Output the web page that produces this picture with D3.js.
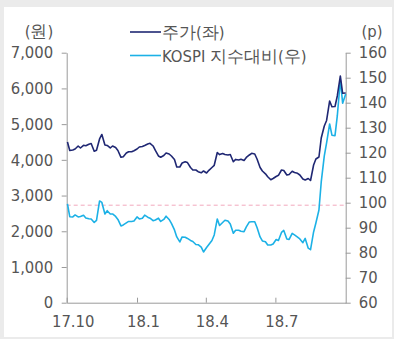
<!DOCTYPE html>
<html>
<head>
<meta charset="utf-8">
<script src="https://d3js.org/d3.v7.min.js"></script>
<style>
body { margin: 0; background: #ebebeb; }
text { font-family: "Liberation Sans Narrow", "DejaVu Sans Condensed", "Liberation Sans", sans-serif; fill: #555; }
.axis path, .axis line { stroke: #9a9a9a; }
</style>
</head>
<body>
<script>
// twice a week (Mon, Thu), Oct 2017 - Oct 2018
var startDay = "2017-10-02";
var weeks = 52;

// 주가 (원), left axis
var price = [
  4500, 4262, 4276, 4304, 4388, 4332, 4407, 4396, 4438, 4458,
  4242, 4270, 4584, 4710, 4416, 4402, 4332, 4388, 4346, 4262,
  4071, 4088, 4192, 4228, 4228, 4256, 4304, 4360, 4374, 4402,
  4444, 4463, 4388, 4262, 4108, 4074, 4122, 4192, 4164, 4108,
  4010, 3800, 3800, 3912, 3945, 3923, 3786, 3716, 3716, 3668,
  3637, 3688, 3632, 3707, 3786, 3847, 4206, 4147, 4178, 4150,
  4136, 4150, 3948, 4012, 3996, 4015, 3982, 4066, 4136, 4183,
  4164, 4024, 3786, 3688, 3609, 3528, 3444, 3478, 3534, 3567,
  3716, 3702, 3576, 3590, 3682, 3646, 3623, 3576, 3464, 3436,
  3478, 3422, 3856, 4024, 4080, 4612, 4948, 5102, 5648, 5488,
  5494, 5788, 6348, 5863, 5872
];

// KOSPI 지수대비 (p), right axis
var relative = [
  99.5, 94.4, 94.3, 95.1, 94.3, 94.5, 95.0, 93.9, 93.6, 93.5,
  92.1, 92.9, 100.7, 100.1, 95.5, 96.8, 95.5, 95.5, 94.5, 93.3,
  90.7, 91.1, 91.9, 92.5, 92.5, 92.7, 94.3, 93.5, 93.8, 95.0,
  94.2, 93.8, 92.8, 93.1, 93.8, 92.5, 93.3, 94.6, 93.3, 91.7,
  89.1, 86.3, 84.3, 86.3, 86.2, 85.7, 84.9, 84.5, 83.3, 83.2,
  82.2, 80.3, 82.1, 83.3, 84.9, 87.1, 93.5, 90.9, 92.1, 93.0,
  92.7, 91.5, 87.8, 89.0, 89.0, 88.6, 88.4, 90.3, 92.3, 92.4,
  92.4, 90.1, 86.3, 84.7, 84.4, 83.1, 83.1, 83.5, 85.3, 84.9,
  88.1, 88.9, 85.5, 85.3, 87.7, 87.1, 86.2, 85.5, 84.0, 85.7,
  81.8, 81.2, 88.3, 91.9, 97.1, 108.3, 118.7, 123.9, 131.5, 127.0,
  126.8, 134.7, 149.1, 139.8, 143.5
];

var tickDates = ["2017-10-01", "2018-01-01", "2018-04-01", "2018-07-01"];
var tickLabels = ["17.10", "18.1", "18.4", "18.7"];
var leftTicks = [0, 1000, 2000, 3000, 4000, 5000, 6000, 7000];
var rightTicks = [60, 70, 80, 90, 100, 110, 120, 130, 140, 150, 160];
var baseLine = 99;

var parse = d3.timeParse("%Y-%m-%d");
var first = parse(startDay);
var dates = [];
for (var w = 0; w <= weeks; w++) {
  dates.push(d3.timeDay.offset(first, w * 7));
  if (w < weeks) dates.push(d3.timeDay.offset(first, w * 7 + 3));
}

var width = 394, height = 339;
var svg = d3.select("body").append("svg")
  .attr("width", width).attr("height", height)
  .style("display", "block");

svg.append("rect")
  .attr("x", 4).attr("y", 7)
  .attr("width", 388).attr("height", 330)
  .attr("fill", "#fff");

var x = d3.scaleTime()
  .domain([parse("2017-10-01"), parse("2018-10-01")])
  .range([66.7, 345.7]);
var yL = d3.scaleLinear().domain([0, 7000]).range([302.7, 52.7]);
var yR = d3.scaleLinear().domain([60, 160]).range([302.7, 52.7]);

// axes
var fs = "16.5px";
svg.append("g").attr("class", "axis")
  .attr("transform", "translate(66.7,0)")
  .call(d3.axisLeft(yL).tickValues(leftTicks).tickFormat(d3.format(","))
    .tickSizeInner(5).tickSizeOuter(0).tickPadding(8.5))
  .call(function(g) { g.selectAll("text").style("font-size", fs).attr("fill", "#555"); });

svg.append("g").attr("class", "axis")
  .attr("transform", "translate(345.7,0)")
  .call(d3.axisRight(yR).tickValues(rightTicks)
    .tickSizeInner(5).tickSizeOuter(0).tickPadding(8))
  .call(function(g) { g.selectAll("text").style("font-size", fs).attr("fill", "#555"); });

svg.append("g").attr("class", "axis")
  .attr("transform", "translate(0,302.7)")
  .call(d3.axisBottom(x).tickValues(tickDates.map(parse))
    .tickFormat(function(d, i) { return tickLabels[i]; })
    .tickSizeInner(-5).tickSizeOuter(0).tickPadding(12.5))
  .call(function(g) {
    g.selectAll("text").style("font-size", fs).attr("fill", "#555").attr("dx", 6);
  });

// reference line
svg.append("line")
  .attr("x1", x.range()[0]).attr("x2", x.range()[1])
  .attr("y1", yR(baseLine)).attr("y2", yR(baseLine))
  .attr("stroke", "#f2a9bd").attr("stroke-width", 1)
  .attr("stroke-dasharray", "4,3");

var lineL = d3.line()
  .x(function(d, i) { return x(dates[i]); })
  .y(function(d) { return yL(d); });
var lineR = d3.line()
  .x(function(d, i) { return x(dates[i]); })
  .y(function(d) { return yR(d); });

svg.append("path").datum(relative)
  .attr("d", lineR).attr("fill", "none")
  .attr("stroke", "#1cb1e6").attr("stroke-width", 1.6)
  .attr("stroke-linejoin", "round");

svg.append("path").datum(price)
  .attr("d", lineL).attr("fill", "none")
  .attr("stroke", "#1f2773").attr("stroke-width", 1.6)
  .attr("stroke-linejoin", "round");

// units
svg.append("text").attr("x", 39).attr("y", 37)
  .attr("text-anchor", "middle").style("font-size", fs).text("(원)");
svg.append("text").attr("x", 372).attr("y", 37)
  .attr("text-anchor", "middle").style("font-size", fs).text("(p)");

// legend
var legend = [
  { name: "주가(좌)", color: "#1f2773", y: 32 },
  { name: "KOSPI 지수대비(우)", color: "#1cb1e6", y: 55.5 }
];
legend.forEach(function(l) {
  svg.append("line")
    .attr("x1", 130).attr("x2", 161)
    .attr("y1", l.y).attr("y2", l.y)
    .attr("stroke", l.color).attr("stroke-width", 1.6);
  svg.append("text")
    .attr("x", 162).attr("y", l.y + 6)
    .style("font-size", fs).text(l.name);
});
</script>
</body>
</html>
